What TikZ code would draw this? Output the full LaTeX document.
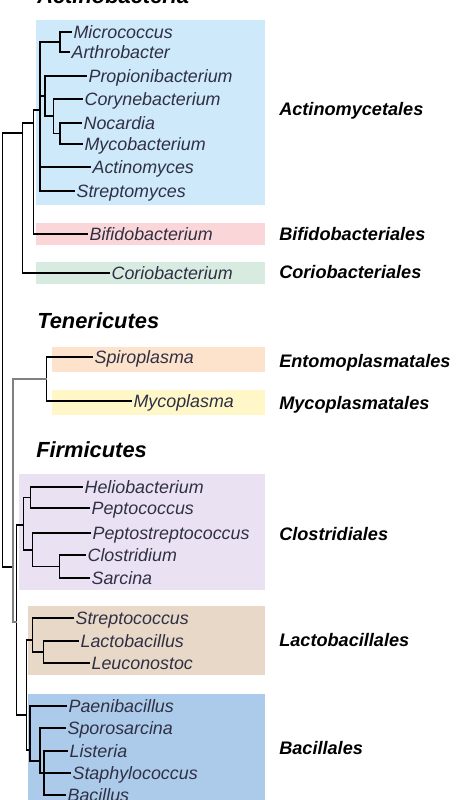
\documentclass[tikz,border=0pt]{standalone}
\usepackage{fontspec}
\setmainfont{Liberation Sans}
\usepackage{tikz}
\definecolor{actinobox}{RGB}{206,233,250}
\definecolor{bifidobox}{RGB}{251,214,216}
\definecolor{coriobox}{RGB}{216,235,224}
\definecolor{spirobox}{RGB}{253,226,204}
\definecolor{mycobox}{RGB}{255,247,200}
\definecolor{clostbox}{RGB}{234,226,242}
\definecolor{lactobox}{RGB}{232,216,200}
\definecolor{bacilbox}{RGB}{172,203,234}
\definecolor{leafink}{RGB}{48,48,68}

\begin{document}
\begin{tikzpicture}[x=0.75pt,y=-0.75pt,
  leaf/.style={anchor=west, inner xsep=1pt, inner ysep=0pt, text height=10pt, text depth=0pt,
    font=\fontsize{13.4}{15}\selectfont\itshape, text=leafink},
  order/.style={anchor=west, inner sep=0pt, text height=10pt, text depth=0pt,
    font=\fontsize{13.6}{15}\selectfont\bfseries\itshape},
  phylum/.style={anchor=base west, inner sep=0pt, font=\fontsize{16.4}{19}\selectfont\bfseries\itshape},
  branch/.style={line width=0.9pt},
  greybranch/.style={line width=1.6pt, color=gray}]
\useasboundingbox (0,0) rectangle (463,800);
\foreach \c / \xa / \ya / \yb in {actinobox/36/20/205, bifidobox/36/223/245, coriobox/36/262/284,
  spirobox/52/347/372, mycobox/52/390/415, clostbox/19/474/590, lactobox/28/606/675, bacilbox/28/694/800} {
\fill[\c] (\xa,\ya) rectangle (265,\yb);
}
\node[phylum] (actinobacteria) at (37,3) {Actinobacteria};
\node[phylum] (tenericutes) at (37,328) {Tenericutes};
\node[phylum] (firmicutes) at (36,457) {Firmicutes};
\foreach \n / \x / \y / \t in {micro/72/32/Micrococcus, arthro/70/52/Arthrobacter,
  propi/87/76/Propionibacterium, coryne/83/99/Corynebacterium, nocard/82/123/Nocardia,
  mycob/83/144/Mycobacterium, actinom/91/167/Actinomyces, strepto/75/191/Streptomyces,
  bifido/88/234/Bifidobacterium, corio/110/273/Coriobacterium,
  spiro/93/357/Spiroplasma, mycop/132/401/Mycoplasma,
  helio/83/487/Heliobacterium, peptoc/90/508/Peptococcus, peptos/91/533/Peptostreptococcus,
  clostr/86/555/Clostridium, sarcina/90/578/Sarcina,
  streptoc/74/618/Streptococcus, lacto/79/641/Lactobacillus, leuco/90/663/Leuconostoc,
  paeni/67/706/Paenibacillus, sporo/66/728/Sporosarcina, lister/68/751/Listeria,
  staph/71/773/Staphylococcus, bacil/66/795/Bacillus} {
\node[leaf] (\n) at (\x,\y) {\t};
}
\foreach \n / \y / \t in {actinomycetales/109/Actinomycetales, bifidobacteriales/234/Bifidobacteriales,
  coriobacteriales/272/Coriobacteriales, entomoplasmatales/361/Entomoplasmatales,
  mycoplasmatales/403/Mycoplasmatales, clostridiales/534/Clostridiales,
  lactobacillales/640/Lactobacillales, bacillales/748/Bacillales} {
\node[order] (\n) at (279,\y) {\t};
}
\foreach \n / \x / \y in {R/2.7/350, A/22.7/133, A1/33.3/123, A2/40/110, C1/60/42, P/45/96,
  C2/53.3/116, C3/60/133.5, B/13.3/567, T/46.7/379, F/16.7/622, K/23.3/525, K1/30.7/497.5,
  K2/32.3/550, K3/59.3/566.5, LB/26.7/715, L/32.3/640, L1/43.3/652, Bc/30/750, Bc1/40/761, Bc2/44/773} {
\coordinate (\n) at (\x,\y);
}
\foreach \a / \b in {R/A, R/B, A/A1, A/corio.west, A1/A2, A1/bifido.west, A2/C1, A2/P,
  A2/actinom.west, A2/strepto.west, C1/micro.west, C1/arthro.west, P/propi.west, P/C2,
  C2/coryne.west, C2/C3, C3/nocard.west, C3/mycob.west, T/spiro.west, T/mycop.west,
  F/K, F/LB, K/K1, K/K2, K1/helio.west, K1/peptoc.west, K2/peptos.west, K2/K3,
  K3/clostr.west, K3/sarcina.west, LB/L, LB/Bc, L/streptoc.west, L/L1, L1/lacto.west,
  L1/leuco.west, Bc/paeni.west, Bc/Bc1, Bc1/sporo.west, Bc1/Bc2, Bc2/lister.west,
  Bc2/staph.west, Bc2/bacil.west} {
\draw[branch] (\a) |- (\b);
}
\foreach \b in {T, F} {
\draw[greybranch] (B) |- (\b);
}
\end{tikzpicture}
\end{document}
